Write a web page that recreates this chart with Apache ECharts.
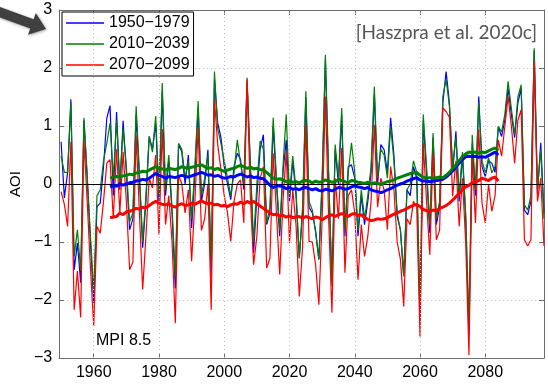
<!DOCTYPE html>
<html>
<head>
<meta charset="utf-8">
<script src="https://cdn.jsdelivr.net/npm/echarts@6/dist/echarts.min.js"></script>
<style>
html,body{margin:0;padding:0;background:#fff;}
#chart{width:548px;height:385px;}
</style>
</head>
<body>
<div id="chart"></div>
<script>
// ---- data ----
const years = [
1950,1951,1952,1953,1954,1955,1956,1957,1958,1959,
1960,1961,1962,1963,1964,1965,1966,1967,1968,1969,
1970,1971,1972,1973,1974,1975,1976,1977,1978,1979,
1980,1981,1982,1983,1984,1985,1986,1987,1988,1989,
1990,1991,1992,1993,1994,1995,1996,1997,1998,1999,
2000,2001,2002,2003,2004,2005,2006,2007,2008,2009,
2010,2011,2012,2013,2014,2015,2016,2017,2018,2019,
2020,2021,2022,2023,2024,2025,2026,2027,2028,2029,
2030,2031,2032,2033,2034,2035,2036,2037,2038,2039,
2040,2041,2042,2043,2044,2045,2046,2047,2048,2049,
2050,2051,2052,2053,2054,2055,2056,2057,2058,2059,
2060,2061,2062,2063,2064,2065,2066,2067,2068,2069,
2070,2071,2072,2073,2074,2075,2076,2077,2078,2079,
2080,2081,2082,2083,2084,2085,2086,2087,2088,2089,
2090,2091,2092,2093,2094,2095,2096,2097,2098];

const blue1950 = [
0.73,-0.24,0.2,1.46,-1.48,-1.02,-1.7,1.1,0.1,-1.0,
-2.05,-0.39,-0.33,0.3,1.13,1.35,-0.2,1.24,-0.1,1.09,
0.2,-0.79,-0.6,1.2,0.1,-1.1,-0.3,0.82,0.6,1.05,
-0.3,1.6,-0.2,0.4,-0.5,-1.8,0.68,0.55,0.0,0.5,
-0.76,0.2,1.3,-0.3,0.0,0.59,-1.6,1.8,1.05,0.8,
0.3,0.0,-0.27,0.3,0.53,0.42,-0.1,1.75,0.3,-1.19,
-0.2,0.6,0.85,-0.7,-0.5,1.0,0.0,-0.9,0.2,0.76,
-0.3,0.4,-0.2,-1.28,-0.5,1.5,-0.4,-0.5,-0.8,-1.3,
0.0,2.15,0.1,-1.7,0.6,0.0,1.2,-0.9,0.3,0.33,
0.1,-0.9,-0.2,-0.7,-0.3,0.2,1.55,0.0,0.68,0.59,
0.2,1.14,0.5,-0.56,-0.79,-1.59,-0.1,-0.2,0.3,0.1,
-2.3,1.1,0.2,-0.84,0.8,-0.7,-0.4,1.4,1.94,1.4,
0.2,0.91,-0.3,0.5,-0.6,-2.6,0.7,-0.2,1.51,0.3,
0.13,0.4,0.36,0.2,0.99,0.82,1.1,1.65,1.2,0.8,
1.4,1.65,-0.45,-0.53,-0.3,2.3,-0.16,0.71,-0.5];

const green2010 = [
0.48,0.2,0.2,1.4,-1.25,-0.79,-1.5,1.14,0.15,-0.9,
-1.85,-0.2,-0.1,0.4,0.7,1.05,0.1,1.1,0.0,0.95,
0.3,-0.65,-0.5,1.34,0.2,-1.0,-0.2,0.82,0.55,1.17,
-0.2,1.74,-0.1,0.5,-0.4,-1.6,0.7,0.6,0.1,0.4,
-0.6,0.3,1.43,-0.2,0.1,0.5,-1.4,1.94,0.95,0.7,
0.4,0.1,-0.2,0.2,0.76,0.35,0.0,1.83,0.35,-1.0,
0.0,0.74,0.6,-0.67,-0.4,1.14,0.1,-0.8,0.3,1.2,
-0.2,0.48,-0.1,-1.28,-0.4,1.6,-0.3,-0.45,-0.84,-1.3,
0.1,2.23,0.2,-1.76,0.68,0.1,1.31,-0.8,0.2,0.71,
0.2,-0.8,-0.1,-0.6,-0.2,0.3,1.68,0.1,0.6,0.5,
0.1,1.0,0.4,-0.5,-0.8,-1.59,-0.1,0.0,0.4,0.2,
-2.1,1.2,0.3,-0.7,0.88,-0.6,-0.3,1.51,1.8,1.35,
0.3,0.8,-0.2,0.55,-0.5,-2.4,0.85,-0.1,1.4,0.4,
0.2,0.45,0.19,0.3,0.99,0.9,1.2,1.77,1.3,0.85,
1.5,1.71,-0.36,-0.45,-0.2,2.34,-0.1,0.6,-0.6];

const red2070 = [
-0.13,-0.35,-0.73,0.73,-2.17,-1.5,-2.3,0.75,-0.3,-1.45,
-2.45,-0.73,-0.85,-0.3,0.36,0.42,-0.6,0.6,-0.5,0.55,
-0.3,-1.48,-1.35,0.85,-0.5,-1.82,-0.9,0.1,-0.07,0.5,
-0.87,0.95,-0.7,-0.2,-1.0,-2.4,0.15,0.0,-0.5,-0.1,
-1.33,-0.3,0.97,-0.8,-0.6,0.0,-2.17,1.45,0.68,0.24,
-0.2,-0.5,-0.99,-0.3,0.0,0.07,-0.67,1.8,-0.2,-1.39,
-0.9,0.1,0.3,-1.45,-1.28,0.53,-0.5,-1.56,-0.3,0.56,
-1.02,-0.1,-0.7,-1.94,-1.1,1.02,-0.99,-1.0,-1.4,-2.08,
-0.6,1.51,-0.6,-2.22,0.1,-0.6,0.62,-1.53,-0.2,-0.1,
-0.5,-1.65,-0.7,-1.25,-0.9,-0.3,1.02,-0.4,0.1,-0.1,
-0.79,0.3,-0.1,-1.0,-1.3,-2.11,-0.6,-0.7,-0.3,-0.4,
-2.63,0.7,-0.3,-1.22,0.53,-0.96,-0.8,1.31,1.25,1.15,
-0.21,0.4,-0.73,0.1,-1.0,-2.95,0.5,-0.67,0.94,-0.33,
-0.67,0.0,-0.47,-0.2,0.76,0.48,1.0,1.51,1.0,0.36,
1.1,1.28,-0.96,-1.07,-0.96,2.11,-0.3,0.1,-1.07];

// running-mean (thick) curves
const smoothYears = [
1965,1966,1967,1968,1969,1970,1971,1972,1973,1974,
1975,1976,1977,1978,1979,1980,1981,1982,1983,1984,
1985,1986,1987,1988,1989,1990,1991,1992,1993,1994,
1995,1996,1997,1998,1999,2000,2001,2002,2003,2004,
2005,2006,2007,2008,2009,2010,2011,2012,2013,2014,
2015,2016,2017,2018,2019,2020,2021,2022,2023,2024,
2025,2026,2027,2028,2029,2030,2031,2032,2033,2034,
2035,2036,2037,2038,2039,2040,2041,2042,2043,2044,
2045,2046,2047,2048,2049,2050,2051,2052,2053,2054,
2055,2056,2057,2058,2059,2060,2061,2062,2063,2064,
2065,2066,2067,2068,2069,2070,2071,2072,2073,2074,
2075,2076,2077,2078,2079,2080,2081,2082,2083,2084];

const blueSmooth = [
-0.05,-0.03,-0.04,0.0,-0.02,0.0,0.02,0.03,0.05,0.06,
0.08,0.07,0.10,0.14,0.18,0.15,0.13,0.10,0.13,0.12,
0.11,0.13,0.15,0.13,0.12,0.14,0.16,0.18,0.20,0.18,
0.15,0.16,0.13,0.15,0.12,0.10,0.11,0.13,0.12,0.15,
0.17,0.15,0.12,0.14,0.11,0.12,0.10,0.09,0.04,-0.02,
-0.06,-0.04,-0.03,-0.05,-0.08,-0.06,-0.09,-0.08,-0.10,-0.07,
-0.06,-0.08,-0.10,-0.08,-0.11,-0.12,-0.09,-0.10,-0.12,-0.09,
-0.06,-0.07,-0.09,-0.08,-0.05,-0.03,-0.05,-0.06,-0.08,-0.06,
-0.10,-0.12,-0.13,-0.15,-0.13,-0.10,-0.08,-0.05,-0.02,0.00,
0.02,0.05,0.07,0.09,0.11,0.07,0.05,0.05,0.04,0.05,
0.06,0.07,0.08,0.12,0.17,0.23,0.29,0.36,0.42,0.47,
0.48,0.47,0.48,0.46,0.47,0.46,0.49,0.52,0.55,0.50];

const greenSmooth = [
0.10,0.12,0.13,0.12,0.14,0.15,0.17,0.16,0.19,0.20,
0.22,0.21,0.24,0.27,0.30,0.27,0.26,0.24,0.27,0.26,
0.25,0.27,0.30,0.28,0.27,0.29,0.30,0.32,0.33,0.30,
0.27,0.28,0.25,0.27,0.24,0.22,0.24,0.26,0.27,0.30,
0.32,0.30,0.27,0.29,0.26,0.27,0.25,0.24,0.20,0.15,
0.10,0.08,0.09,0.07,0.04,0.05,0.03,0.04,0.02,0.05,
0.06,0.05,0.02,0.05,0.03,0.04,0.07,0.05,0.03,0.04,
0.08,0.06,0.04,0.02,0.06,0.05,0.03,0.02,0.01,0.03,
0.00,0.02,0.01,-0.01,0.02,0.04,0.05,0.07,0.10,0.12,
0.14,0.16,0.18,0.19,0.20,0.15,0.12,0.10,0.11,0.10,
0.11,0.12,0.11,0.15,0.20,0.27,0.33,0.40,0.47,0.52,
0.55,0.54,0.55,0.53,0.55,0.54,0.57,0.60,0.62,0.58];

const redSmooth = [
-0.58,-0.57,-0.56,-0.50,-0.53,-0.48,-0.47,-0.45,-0.42,-0.43,
-0.40,-0.41,-0.37,-0.33,-0.30,-0.33,-0.35,-0.36,-0.34,-0.38,
-0.40,-0.36,-0.34,-0.37,-0.36,-0.33,-0.35,-0.32,-0.29,-0.32,
-0.34,-0.33,-0.36,-0.35,-0.38,-0.37,-0.39,-0.36,-0.34,-0.35,
-0.31,-0.34,-0.30,-0.33,-0.30,-0.34,-0.38,-0.42,-0.46,-0.50,
-0.53,-0.52,-0.55,-0.54,-0.57,-0.55,-0.58,-0.57,-0.56,-0.59,
-0.56,-0.58,-0.60,-0.57,-0.58,-0.62,-0.58,-0.55,-0.53,-0.56,
-0.53,-0.51,-0.53,-0.56,-0.52,-0.51,-0.54,-0.53,-0.58,-0.61,
-0.63,-0.62,-0.60,-0.61,-0.60,-0.58,-0.55,-0.52,-0.50,-0.47,
-0.45,-0.42,-0.39,-0.37,-0.35,-0.39,-0.44,-0.46,-0.47,-0.45,
-0.46,-0.42,-0.40,-0.37,-0.33,-0.28,-0.22,-0.16,-0.10,-0.05,
-0.02,0.02,0.04,0.06,0.10,0.08,0.06,0.10,0.12,0.05];

const seriesNames = ['1950\u22121979', '2010\u22122039', '2070\u22122099'];
const xTicks = [1960, 1980, 2000, 2020, 2040, 2060, 2080];

// ---- chart ----
const COLORS = ['#0000ff', '#007f00', '#ff0000'];
const FONT = 'Liberation Sans, Arial, sans-serif';

function pairs(xs, ys) { return xs.map((x, i) => [x, ys[i]]); }

const chart = echarts.init(document.getElementById('chart'), null, {renderer: 'canvas'});

const thinData = [blue1950, green2010, red2070];
const smoothData = [blueSmooth, greenSmooth, redSmooth];

const series = [];
// dotted vertical grid lines
series.push({
  type: 'line', data: [], z: 1, silent: true,
  markLine: {
    silent: true, symbol: ['none', 'none'], label: {show: false},
    lineStyle: {color: '#bdbdbd', type: [1, 3], width: 1},
    data: xTicks.map(v => ({xAxis: v}))
  }
});
thinData.forEach((d, i) => {
  series.push({
    name: seriesNames[i], type: 'line', data: pairs(years, d),
    showSymbol: false, symbol: 'none', z: 2 + i,
    lineStyle: {color: COLORS[i], width: 1.2},
    itemStyle: {color: COLORS[i]}
  });
});
smoothData.forEach((d, i) => {
  series.push({
    name: 'mean ' + seriesNames[i], type: 'line', data: pairs(smoothYears, d),
    showSymbol: false, symbol: 'none', z: 6 + i,
    lineStyle: {color: COLORS[i], width: 3},
    itemStyle: {color: COLORS[i]}
  });
});
// zero line
series.push({
  type: 'line', data: [], z: 10, silent: true,
  markLine: {
    silent: true, symbol: ['none', 'none'], label: {show: false},
    lineStyle: {color: '#000', type: 'solid', width: 1},
    data: [{yAxis: 0}]
  }
});

const minus = v => String(v).replace('-', '\u2212');

chart.setOption({
  animation: false,
  backgroundColor: '#fff',
  grid: {left: 57, right: 4, top: 10, bottom: 27, containLabel: false},
  legend: {
    left: 62, top: 12, orient: 'vertical',
    backgroundColor: '#fff', borderColor: '#000', borderWidth: 1,
    padding: [3, 4, 3, 4], itemGap: 5, itemWidth: 38, itemHeight: 1.5,
    textStyle: {fontSize: 16, color: '#000', fontFamily: FONT, lineHeight: 16},
    data: seriesNames.map(n => ({name: n, icon: 'rect'}))
  },
  xAxis: [{
    type: 'value', min: 1949.4, max: 2098, position: 'bottom',
    axisLine: {show: true, onZero: false, lineStyle: {color: '#6b6b6b', width: 1}},
    axisTick: {show: true, inside: true, length: 5, customValues: xTicks, lineStyle: {color: '#6b6b6b'}},
    axisLabel: {show: true, customValues: xTicks, fontSize: 16, color: '#000', fontFamily: FONT, margin: 7,
      formatter: v => String(v)},
    splitLine: {show: false}
  }, {
    type: 'value', min: 1949.4, max: 2098, position: 'top',
    axisLine: {show: true, onZero: false, lineStyle: {color: '#6b6b6b', width: 1}},
    axisTick: {show: true, inside: true, length: 5, customValues: xTicks, lineStyle: {color: '#6b6b6b'}},
    axisLabel: {show: false},
    splitLine: {show: false}
  }],
  yAxis: [{
    type: 'value', min: -3, max: 3, interval: 1, position: 'left',
    name: 'AOI', nameLocation: 'middle', nameGap: 30,
    nameTextStyle: {fontSize: 15, color: '#000', fontFamily: FONT},
    axisLine: {show: true, onZero: false, lineStyle: {color: '#6b6b6b', width: 1}},
    axisTick: {show: true, inside: true, length: 5, lineStyle: {color: '#6b6b6b'}},
    axisLabel: {fontSize: 16, color: '#000', fontFamily: FONT, margin: 7, formatter: minus},
    splitLine: {show: true, lineStyle: {color: '#bdbdbd', type: [1, 3], width: 1}}
  }, {
    type: 'value', min: -3, max: 3, interval: 1, position: 'right',
    axisLine: {show: true, onZero: false, lineStyle: {color: '#6b6b6b', width: 1}},
    axisTick: {show: true, inside: true, length: 5, lineStyle: {color: '#6b6b6b'}},
    axisLabel: {show: false},
    splitLine: {show: false}
  }],
  series: series,
  graphic: [
    {
      type: 'polygon', z: 100,
      shape: {points: [[-12.1, 13.2], [30.2, 28.6], [28.0, 34.7], [46, 29], [35.8, 13.1], [33.6, 19.2], [-8.7, 3.8]]},
      style: {fill: '#404040', shadowBlur: 3, shadowColor: 'rgba(0,0,0,0.35)', shadowOffsetX: 1, shadowOffsetY: 1}
    },
    {
      type: 'text', z: 100, right: 11, top: 23,
      style: {text: '[Haszpra et al. 2020c]', fill: '#555555', fontSize: 19, fontFamily: 'Lato, Carlito, sans-serif'}
    },
    {
      type: 'text', z: 100, left: 96, top: 333,
      style: {text: 'MPI 8.5', fill: '#000', fontSize: 16, fontFamily: FONT}
    }
  ]
});
</script>
</body>
</html>
